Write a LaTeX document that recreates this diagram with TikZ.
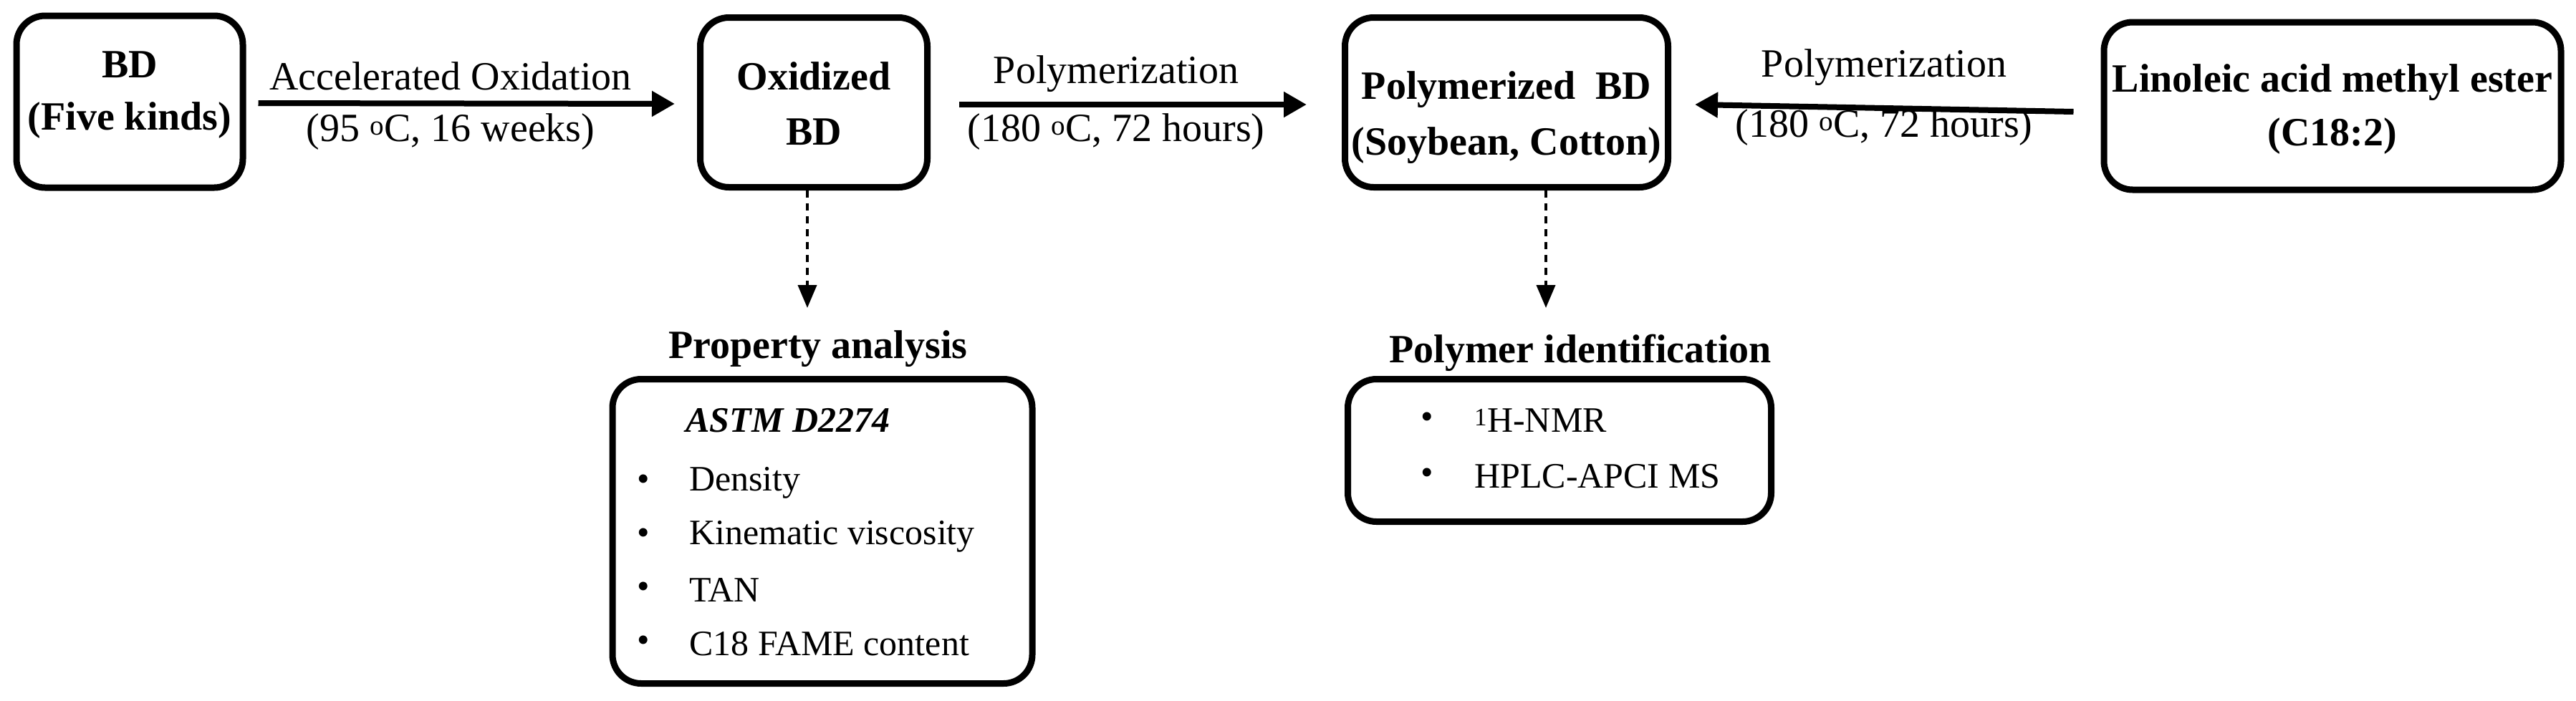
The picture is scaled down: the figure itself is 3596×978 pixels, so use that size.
\documentclass[tikz,border=0pt]{standalone}
\usepackage{fontspec}
\setmainfont{Liberation Serif}
\usetikzlibrary{arrows.meta}
\begin{document}
\begin{tikzpicture}[x=1pt,y=-1pt,
  box/.style={draw,line width=9pt,rounded corners=40pt,inner sep=0pt,align=center},
  txt/.style={font=\fontsize{56}{64}\selectfont,inner sep=0pt,align=center},
  btxt/.style={txt,font=\fontsize{56}{64}\selectfont\bfseries},
  ltxt/.style={font=\fontsize{50}{60}\selectfont,inner sep=0pt},
  arr/.style={line width=8pt,-{Triangle[length=32pt,width=34pt]}},
  darr/.style={line width=4pt,dash pattern=on 10pt off 8pt,-{Triangle[length=32pt,width=26pt]}}]
\useasboundingbox (0,0) rectangle (3596,978);
% main boxes
\node[box,minimum width=316pt,minimum height=240pt] (bd) at (181,142) {};
\node[btxt] at (181,90) {BD};
\node[btxt] at (181,168) {(Five kinds)};
\node[box,minimum width=317pt,minimum height=237pt] (ox) at (1136,143) {};
\node[btxt] at (1136,106) {Oxidized};
\node[btxt] at (1136,184) {BD};
\node[box,minimum width=451pt,minimum height=237pt] (pb) at (2103,143) {};
\node[btxt] at (2103,125) {Polymerized\ \ BD};
\node[btxt] at (2103,203) {(Soybean, Cotton)};
\node[box,minimum width=638pt,minimum height=234pt] (lm) at (3256,148) {};
\node[btxt] at (3256,115) {Linoleic acid methyl ester};
\node[btxt] at (3256,190) {(C18:2)};
% horizontal arrows
\draw[arr] ([xshift=17pt,yshift=-2pt]bd.east) -- ([xshift=-31pt,yshift=-2pt]ox.west);
\node[txt] at (629,106) {Accelerated Oxidation};
\node[txt] at (629,184) {(95 \textsuperscript{o}C, 16 weeks)};
\draw[arr] ([xshift=40pt,yshift=-3pt]ox.east) -- ([xshift=-49pt,yshift=-3pt]pb.west);
\node[txt] at (1558,103) {Polymerization};
\node[txt] at (1558,184) {(180 \textsuperscript{o}C, 72 hours)};
\draw[arr] ([xshift=-38pt,yshift=-8pt]lm.west) -- ([xshift=33pt,yshift=-3pt]pb.east);
\node[txt] at (2630,94) {Polymerization};
\node[txt] at (2630,178) {(180 \textsuperscript{o}C, 72 hours)};
% property analysis
\node[btxt] (pal) at (1142,487) {Property analysis};
\node[box,minimum width=586pt,minimum height=425pt] (pa) at (1148,742) {};
\node[ltxt,font=\fontsize{50}{60}\selectfont\bfseries\itshape] at (1100,587) {ASTM D2274};
\foreach \t/\y in {Density/674,Kinematic viscosity/749,TAN/824,C18 FAME content/899}{
  \node[ltxt] at (898,\y) {\textbullet};
  \node[ltxt,anchor=west] at (962,\y) {\t};
}
\draw[darr] ([xshift=-9pt]ox.south) -- (1127,430);
% polymer identification
\node[btxt] (pil) at (2206,493) {Polymer identification};
\node[box,minimum width=591pt,minimum height=199pt] (pi) at (2177,629) {};
\node[ltxt] at (1992,587) {\textbullet};
\node[ltxt,anchor=west] at (2058,587) {\textsuperscript{1}H-NMR};
\node[ltxt] at (1992,665) {\textbullet};
\node[ltxt,anchor=west] at (2058,665) {HPLC-APCI MS};
\draw[darr] ([xshift=55pt]pb.south) -- (2158,430);
\end{tikzpicture}
\end{document}
